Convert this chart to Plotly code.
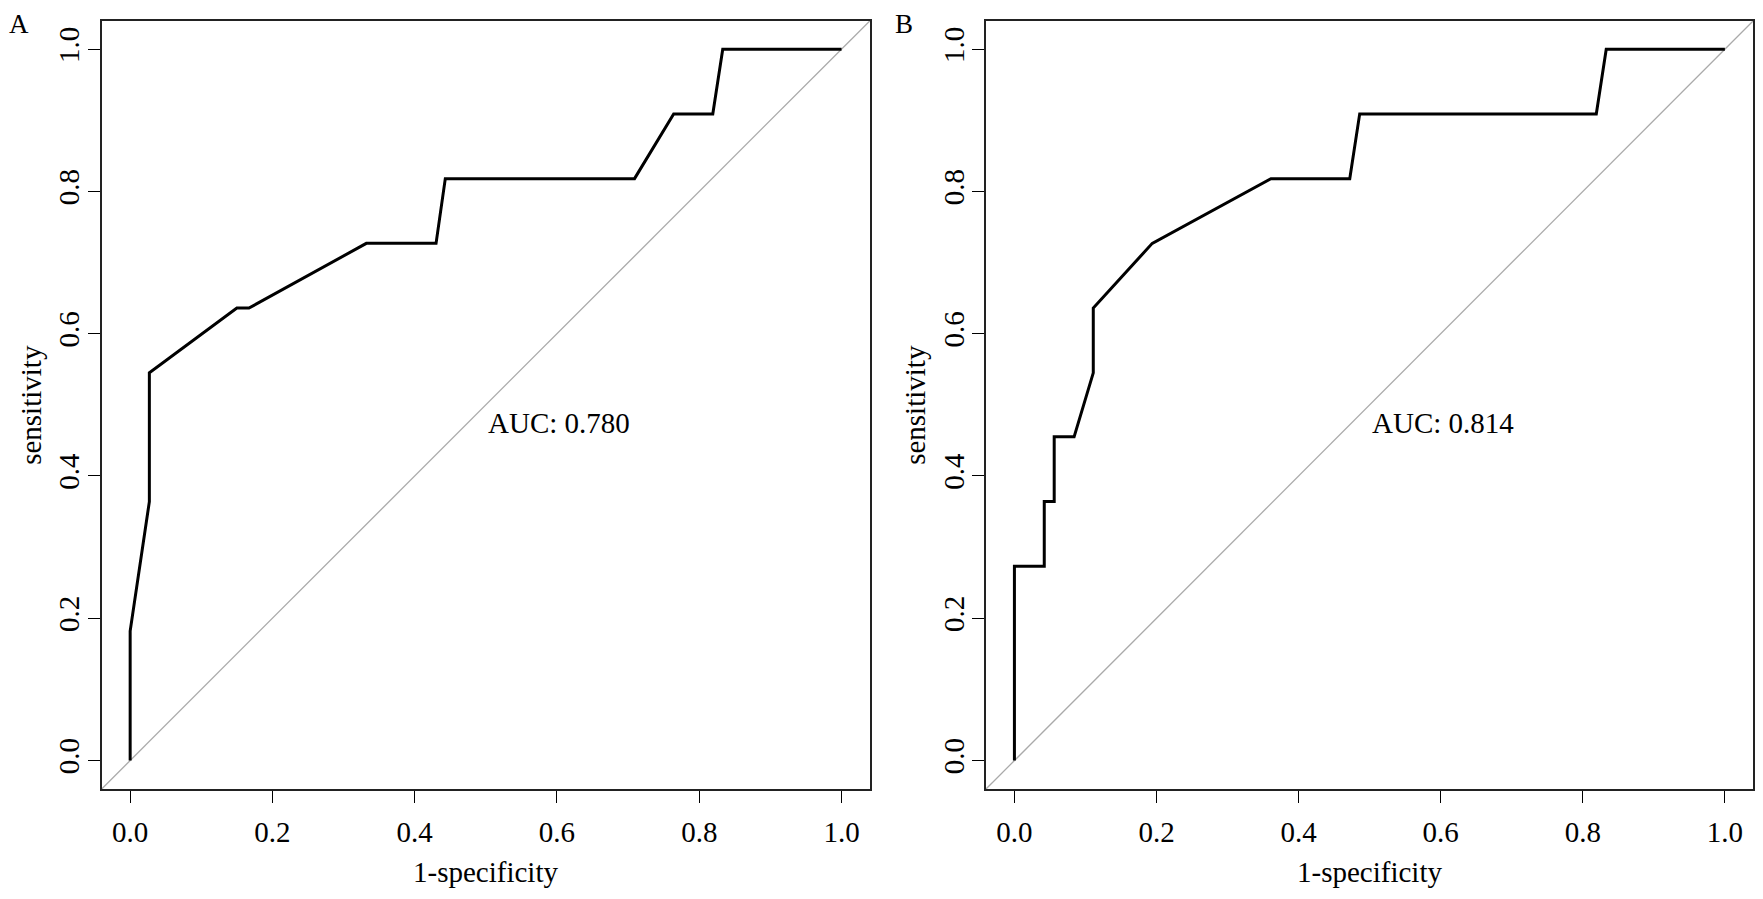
import plotly.graph_objects as go

# ROC curve A
fpr_a = [0, 0, 0.027, 0.027, 0.150, 0.167, 0.332, 0.430, 0.443, 0.709, 0.764, 0.819, 0.833, 1.0]
tpr_a = [0, 0.182, 0.364, 0.545, 0.636, 0.636, 0.727, 0.727, 0.818, 0.818, 0.909, 0.909, 1.0, 1.0]
auc_a = "AUC: 0.780"

# ROC curve B
fpr_b = [0, 0, 0.042, 0.042, 0.056, 0.056, 0.084, 0.111, 0.111, 0.194, 0.361, 0.472, 0.486, 0.819, 0.833, 1.0]
tpr_b = [0, 0.273, 0.273, 0.364, 0.364, 0.455, 0.455, 0.545, 0.636, 0.727, 0.818, 0.818, 0.909, 0.909, 1.0, 1.0]
auc_b = "AUC: 0.814"

tick_vals = [0, 0.2, 0.4, 0.6, 0.8, 1.0]
tick_text = ["0.0", "0.2", "0.4", "0.6", "0.8", "1.0"]

# the html page has an 8px body margin, so the figure is made that much smaller
# and all positions below are page pixels minus that offset
OFF = 8
W, H = 1763 - OFF, 899 - OFF
FONT = "Liberation Serif, Times New Roman, serif"

fig = go.Figure()
fig.add_trace(go.Scatter(x=fpr_a, y=tpr_a, mode="lines", line=dict(color="black", width=3),
                         xaxis="x", yaxis="y", showlegend=False, hoverinfo="skip"))
fig.add_trace(go.Scatter(x=fpr_b, y=tpr_b, mode="lines", line=dict(color="black", width=3),
                         xaxis="x2", yaxis="y2", showlegend=False, hoverinfo="skip"))

def px_x(p):
    return (p - OFF) / W

def px_y(p):
    return 1 - (p - OFF) / H

axis_common = dict(
    range=[-0.04, 1.04], showgrid=False, zeroline=False,
    showline=True, mirror=True, linecolor="#222", linewidth=1.5,
    ticks="outside", ticklen=12, tickwidth=1.3, tickcolor="black",
    tickvals=tick_vals, ticktext=tick_text,
    tickfont=dict(family=FONT, size=29, color="black"),
    automargin=False, fixedrange=True,
)

y_dom = [px_y(789), px_y(20.7)]
fig.update_layout(
    width=W, height=H,
    margin=dict(l=0, r=0, t=0, b=0),
    paper_bgcolor="white", plot_bgcolor="white",
    font=dict(family=FONT, color="black"),
    xaxis=dict(domain=[px_x(101.7), px_x(870)], anchor="y", ticklabelstandoff=4, **axis_common),
    yaxis=dict(domain=y_dom, anchor="x", tickangle=-90, ticklabelstandoff=-3, **axis_common),
    xaxis2=dict(domain=[px_x(986), px_x(1753.3)], anchor="y2", ticklabelstandoff=4, **axis_common),
    yaxis2=dict(domain=y_dom, anchor="x2", tickangle=-90, ticklabelstandoff=-3, **axis_common),
)

# identity lines (abline across the whole plot region)
for xr, yr in [("x", "y"), ("x2", "y2")]:
    fig.add_shape(type="line", xref=xr + " domain", yref=yr + " domain", x0=0, y0=0, x1=1, y1=1,
                  line=dict(color="#aaaaaa", width=1.3), layer="below")

ann_font = dict(family=FONT, size=29, color="black")
# AUC labels, left/top anchored at (0.5, 0.5)
fig.add_annotation(x=0.5, y=0.5, xref="x", yref="y", text=auc_a, showarrow=False,
                   xanchor="left", yanchor="top", font=ann_font)
fig.add_annotation(x=0.5, y=0.5, xref="x2", yref="y2", text=auc_b, showarrow=False,
                   xanchor="left", yanchor="top", font=ann_font)

# axis titles
for cx in [px_x((101.7 + 870) / 2), px_x((986 + 1753.3) / 2)]:
    fig.add_annotation(x=cx, y=px_y(872), xref="paper", yref="paper", text="1-specificity",
                       showarrow=False, xanchor="center", yanchor="middle", font=ann_font)
for cx in [px_x(31), px_x(915)]:
    fig.add_annotation(x=cx, y=(y_dom[0] + y_dom[1]) / 2, xref="paper", yref="paper", text="sensitivity",
                       showarrow=False, textangle=-90, xanchor="center", yanchor="middle", font=ann_font)

# panel letters, kept inside the top edge of the figure
letter_font = dict(family=FONT, size=27, color="black")
fig.add_annotation(x=0, y=1, xref="paper", yref="paper", text="A", showarrow=False,
                   xanchor="left", yanchor="top", font=letter_font, borderpad=0)
fig.add_annotation(x=px_x(904), y=1, xref="paper", yref="paper", text="B", showarrow=False,
                   xanchor="center", yanchor="top", font=letter_font, borderpad=0)

fig.write_html("out.html")
